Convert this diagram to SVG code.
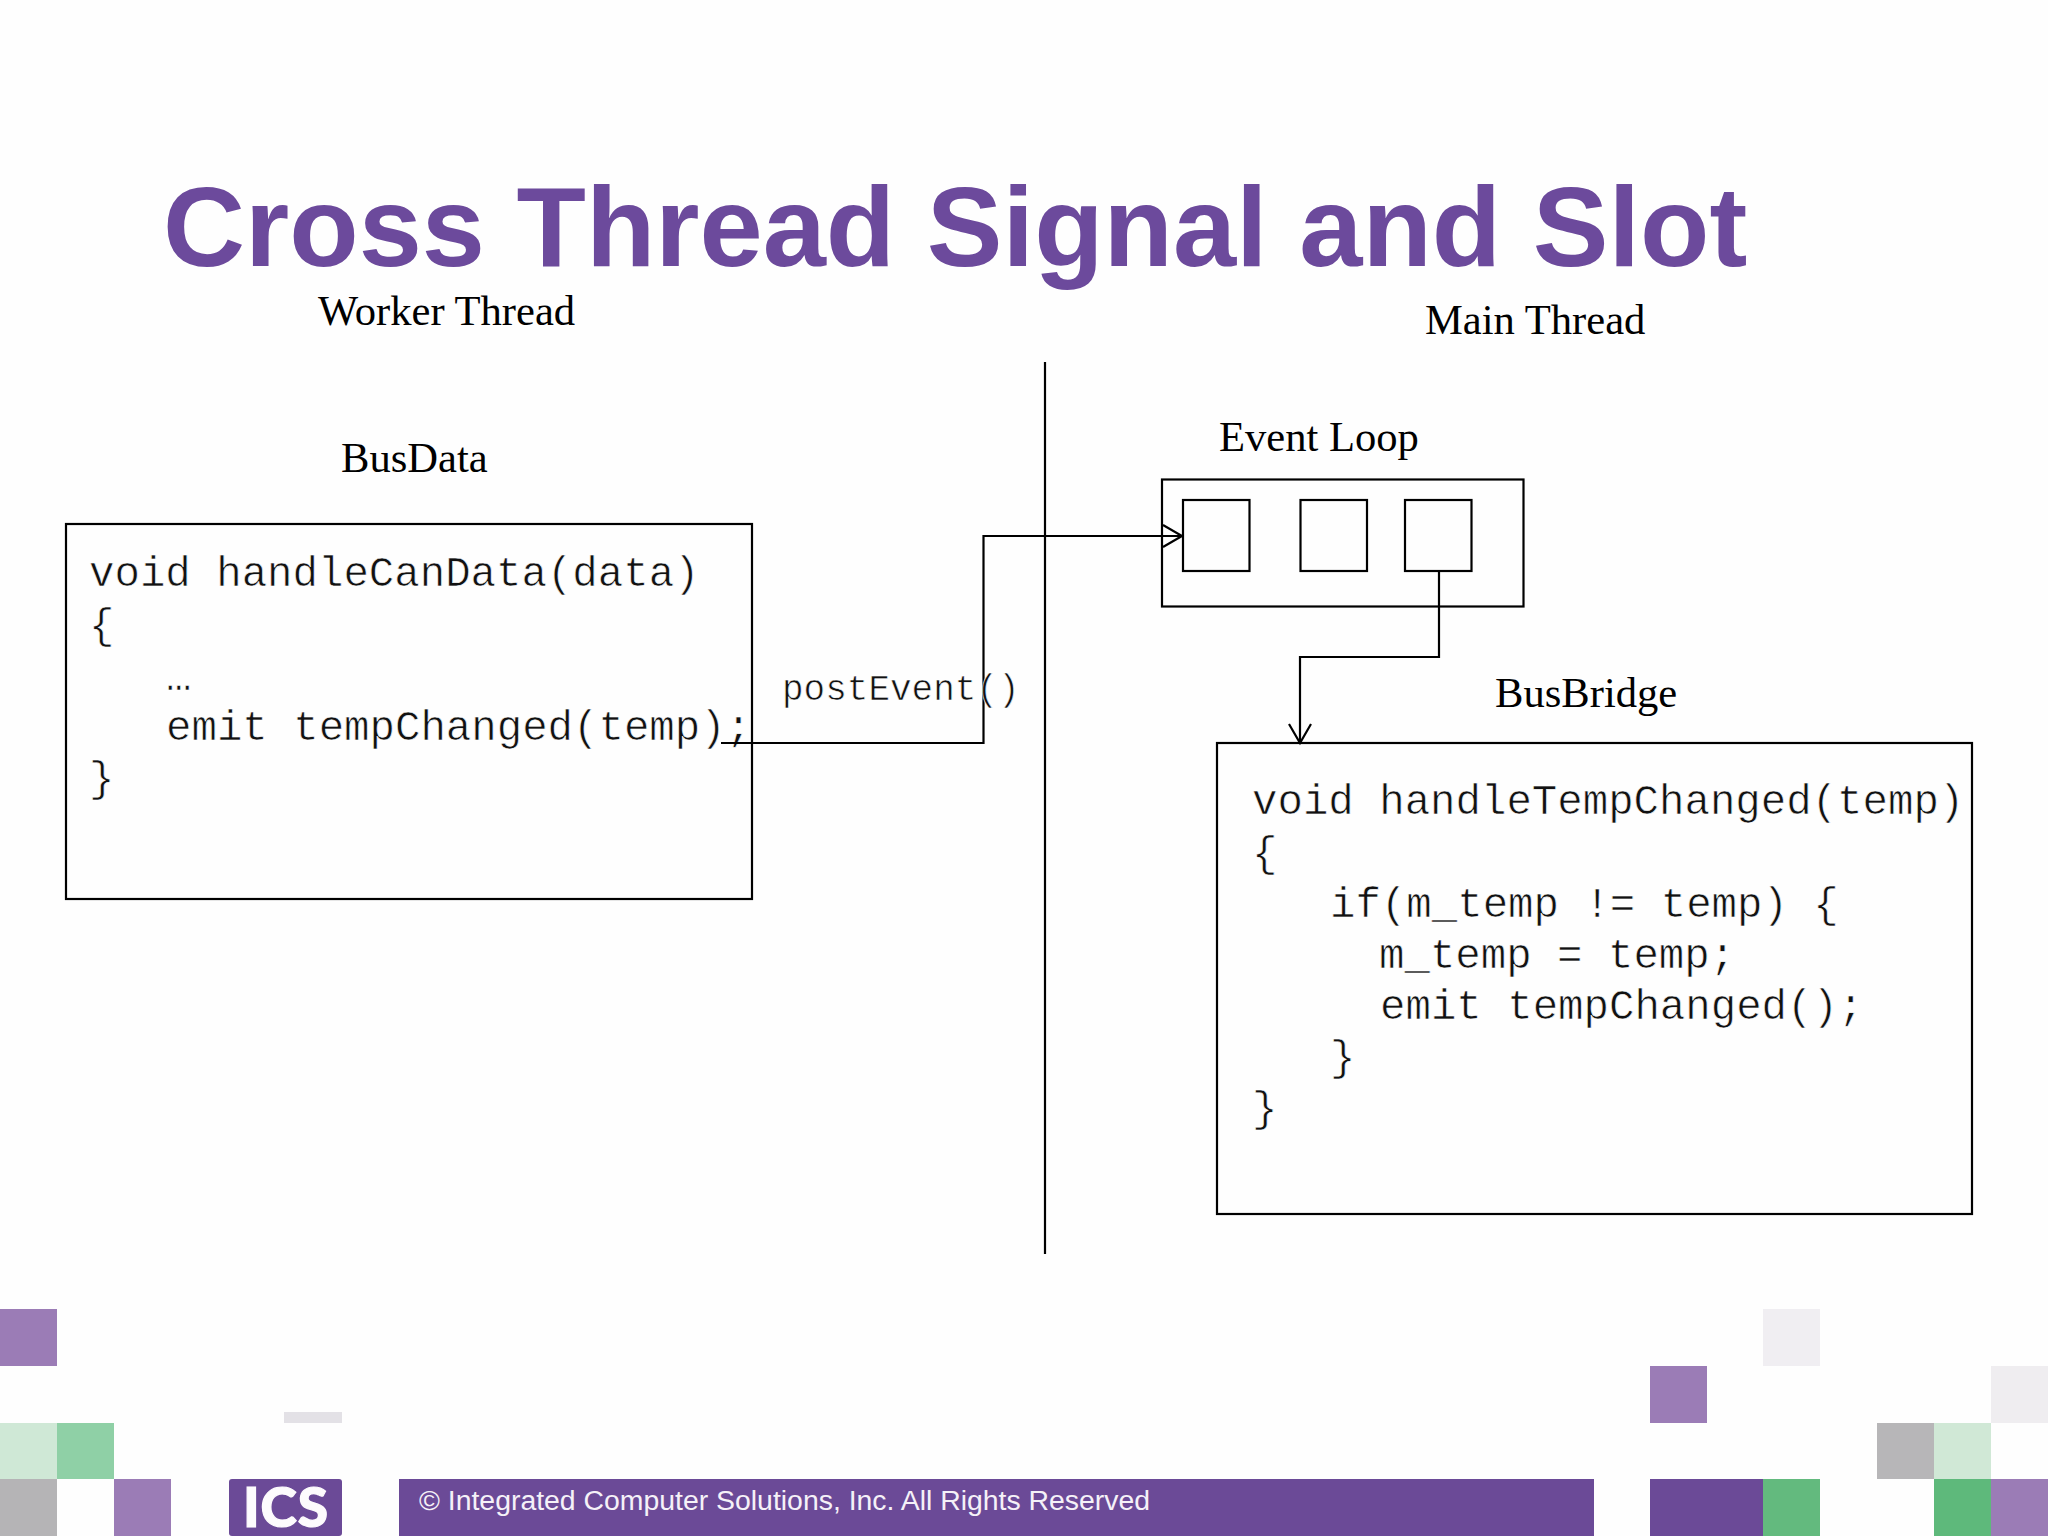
<svg xmlns="http://www.w3.org/2000/svg" width="2048" height="1536" viewBox="0 0 2048 1536">
<style>
.box{fill:none;stroke:#000;stroke-width:2.2}
.line{fill:none;stroke:#000;stroke-width:2.2}
.m{font-family:"Liberation Mono",monospace;font-size:42.4px;fill:#111;stroke:#fff;stroke-width:.6px}
.p{font-size:36px}
.s{font-family:"Liberation Serif",serif;font-size:42.6px;fill:#000}
</style>
<defs>
<marker id="arrow" markerUnits="userSpaceOnUse" markerWidth="24" markerHeight="30" refX="21" refY="12" orient="auto"><path d="M2 1L21 12L2 23" fill="none" stroke="#000" stroke-width="2.2"/></marker>
</defs>
<rect width="2048" height="1536" fill="#fefefe"/>
<g id="decor">
<rect x="0" y="1309" width="57" height="57" fill="#9b7cb6"/>
<rect x="284" y="1412" width="58" height="11" fill="#e3e1e6"/>
<rect x="0" y="1423" width="57" height="56" fill="#cfe8d6"/>
<rect x="57" y="1423" width="57" height="56" fill="#8fd0a6"/>
<rect x="0" y="1479" width="57" height="57" fill="#b5b4b6"/>
<rect x="114" y="1479" width="57" height="57" fill="#9b7cb6"/>
<rect x="1763" y="1309" width="57" height="57" fill="#f0eef2"/>
<rect x="1650" y="1366" width="57" height="57" fill="#9b7cb6"/>
<rect x="1991" y="1366" width="57" height="57" fill="#efedf0"/>
<rect x="1877" y="1423" width="57" height="56" fill="#b7b6b8"/>
<rect x="1934" y="1423" width="57" height="56" fill="#d0e8d6"/>
<rect x="1650" y="1479" width="113" height="57" fill="#6b4a97"/>
<rect x="1763" y="1479" width="57" height="57" fill="#63ba7e"/>
<rect x="1934" y="1479" width="57" height="57" fill="#5eb97b"/>
<rect x="1991" y="1479" width="57" height="57" fill="#9b7cb6"/>
</g>
<g id="logo">
<rect x="229" y="1479" width="113" height="57" rx="3" fill="#6b4a97"/>
<text x="286" y="1527" text-anchor="middle" font-family="Lato, sans-serif" font-weight="900" font-size="55" fill="#fdfbfd" stroke="#fdfbfd" stroke-width="1.2" letter-spacing="1">ICS</text>
</g>
<g id="footer">
<rect x="399" y="1479" width="1195" height="57" fill="#6b4a97"/>
<text x="419" y="1510" font-family="Liberation Sans, sans-serif" font-size="28.4" fill="#f5f1f8">© Integrated Computer Solutions, Inc. All Rights Reserved</text>
</g>
<text id="title" x="163" y="266" font-family="Liberation Sans, sans-serif" font-weight="700" font-size="113.600" fill="#6c4a9c">Cross Thread Signal and Slot</text>
<g id="worker-label"><text class="s" x="318" y="325">Worker Thread</text></g>
<g id="main-label"><text class="s" x="1425" y="334">Main Thread</text></g>
<g id="busdata">
<text class="s" x="341" y="472">BusData</text>
<rect class="box" x="66" y="524" width="686" height="375"/>
<text class="m" xml:space="preserve"><tspan x="89" y="586">void handleCanData(data)</tspan><tspan x="89" y="638">{</tspan><tspan x="166" y="690">…</tspan><tspan x="166" y="740">emit tempChanged(temp);</tspan><tspan x="89" y="791">}</tspan></text>
</g>
<g id="event-loop">
<text class="s" x="1219" y="451">Event Loop</text>
<rect class="box" x="1162" y="479.500" width="361.500" height="127"/>
<rect class="box" x="1183" y="500" width="66.500" height="71"/>
<rect class="box" x="1300.500" y="500" width="66.500" height="71"/>
<rect class="box" x="1405" y="500" width="66.500" height="71"/>
</g>
<g id="busbridge">
<text class="s" x="1495" y="707">BusBridge</text>
<rect class="box" x="1217" y="743" width="755" height="471"/>
<text class="m" xml:space="preserve"><tspan x="1252" y="814">void handleTempChanged(temp)</tspan><tspan x="1252" y="866">{</tspan><tspan x="1330" y="917">if(m_temp != temp) {</tspan><tspan x="1379" y="968">m_temp = temp;</tspan><tspan x="1380" y="1019">emit tempChanged();</tspan><tspan x="1330" y="1070">}</tspan><tspan x="1252" y="1121">}</tspan></text>
</g>
<g id="connectors">
<path class="line" d="M1045 362V1254"/>
<path class="line" d="M721 743H983.500V536H1182" marker-end="url(#arrow)"/>
<path class="line" d="M1439 571V657H1300V743" marker-end="url(#arrow)"/>
</g>
<text class="m p" id="post-event" x="782" y="700">postEvent()</text>
</svg>
